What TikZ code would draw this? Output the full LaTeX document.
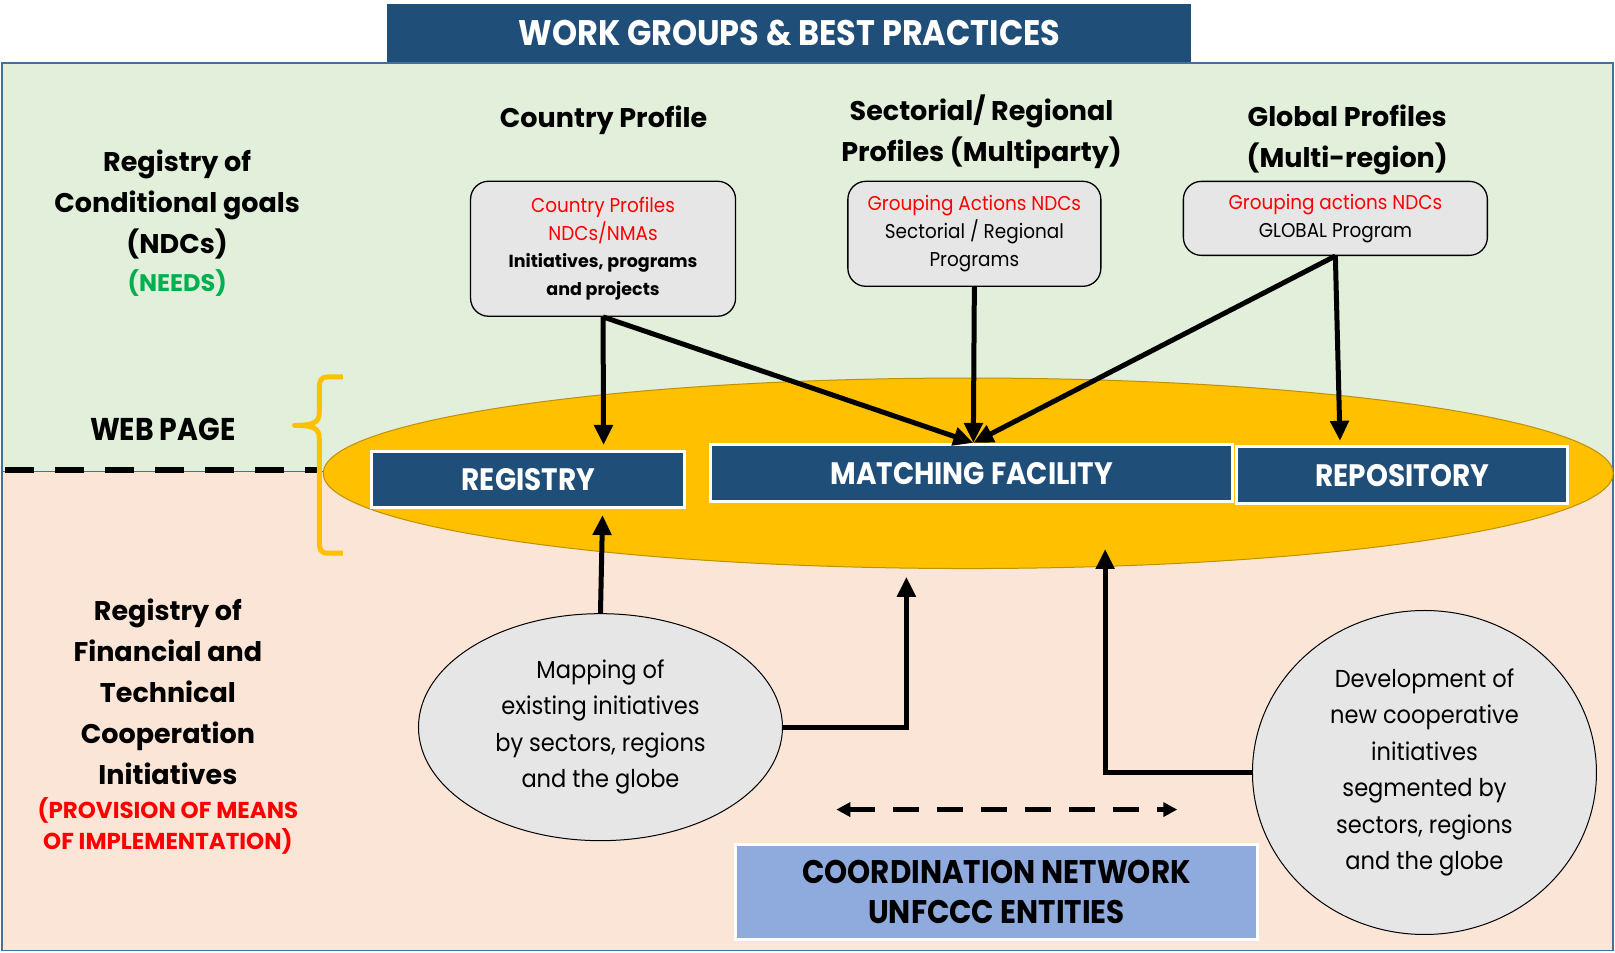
\documentclass[tikz,border=0pt]{standalone}
\usepackage{fontspec}
\setmainfont{Poppins}
\newfontfamily\cond{Poppins}[FakeStretch=0.9]
\newfontfamily\med{Poppins}
\newfontfamily\rg{Poppins}[FakeStretch=0.92]
\usetikzlibrary{arrows.meta,shapes.geometric}
\definecolor{dkblue}{HTML}{1F4E79}
\definecolor{bggreen}{HTML}{E2EFDA}
\definecolor{bgpink}{HTML}{FBE5D6}
\definecolor{frameblue}{HTML}{41719C}
\definecolor{orng}{HTML}{FFC000}
\definecolor{orngdk}{HTML}{BF9000}
\definecolor{boxgray}{HTML}{E7E6E6}
\definecolor{coordblue}{HTML}{8FAADC}
\definecolor{redtxt}{HTML}{FF0000}
\definecolor{greentxt}{HTML}{00B050}
\newcommand{\fsz}[2]{\fontsize{#1}{#2}\selectfont}
\begin{document}
\begin{tikzpicture}[x=1.03pt,y=-1.03pt,
  bluebox/.style={draw=white, line width=3pt, fill=dkblue, text=white, font=\cond\bfseries\fsz{31}{35}, inner sep=0, minimum height=56.7pt},
  graybox/.style={draw=black, line width=1.3pt, fill=boxgray, rounded corners=18pt, align=center, inner sep=0, font=\rg\fsz{20}{27.8}},
  grayell/.style={ellipse, draw=black, line width=1pt, fill=boxgray, align=center, inner sep=0, font=\rg\fsz{24.5}{36.5}},
  hdr/.style={align=center, font=\med\bfseries\fsz{27}{41}, inner sep=0},
  arr/.style={line width=5pt, -{Triangle[length=20pt,width=18pt]}},
  darr/.style={line width=5pt, dash pattern=on 26pt off 18pt, {Triangle[length=14pt,width=14pt]}-{Triangle[length=14pt,width=14pt]}}
]
\useasboundingbox (0,0) rectangle (1568,925);
% backgrounds
\fill[bggreen] (2,61) rectangle (1566,458);
\fill[bgpink] (2,458) rectangle (1566,923);
\draw[frameblue, line width=1pt] (2,458) -- (1566,458);
\draw[frameblue, line width=1.5pt] (2,61) rectangle (1566,923);
% title
\node[fill=dkblue, minimum width=804pt, minimum height=58pt, inner sep=0, text=white, font=\cond\bfseries\fsz{35.5}{40}] (title) at (766.5,32) {WORK GROUPS \& BEST PRACTICES};
% left labels
\node[hdr] (ndcs) at (172,199) {Registry of\\Conditional goals\\(NDCs)};
\node[hdr, text=greentxt, font=\med\bfseries\fsz{24}{28}] (needs) at (172,275) {(NEEDS)};
\node[hdr, font=\cond\bfseries\fsz{31.5}{36}] (webpage) at (158,417) {WEB PAGE};
\node[hdr] (fin) at (163,672) {Registry of\\Financial and\\Technical\\Cooperation\\Initiatives};
\node[hdr, text=redtxt, font=\med\bfseries\fsz{23}{31}] (prov) at (163,802) {(PROVISION OF MEANS\\OF IMPLEMENTATION)};
% dashed line and brace
\draw[line width=6pt, dash pattern=on 29pt off 21pt] (5,456) -- (310,456);
\coordinate (bracetop) at (333,366);
\coordinate (bracebot) at (333,537);
\coordinate (bracetip) at (286,413);
\draw[orng, line width=5pt, line join=round] (bracetop) -- (318,366) .. controls (311,366) and (310,370) .. (310,378) -- (310,400) .. controls (310,410) and (305,413) .. (bracetip) .. controls (305,413) and (310,416) .. (310,426) -- (310,525) .. controls (310,533) and (311,537) .. (318,537) -- (bracebot);
% big ellipse
\node[ellipse, fill=orng, draw=orngdk, line width=1pt, minimum width=1290pt, minimum height=190.5pt, inner sep=0] (web) at (940,459.5) {};
% headers
\node[hdr] (hcountry) at (586,117) {Country Profile};
\node[hdr] (hsector) at (953,128) {Sectorial/ Regional\\Profiles (Multiparty)};
\node[hdr] (hglobal) at (1308,136) {Global Profiles\\(Multi-region)};
% gray boxes
\node[graybox, minimum width=265pt, minimum height=135pt] (country) at (585.5,241.5) {{\color{redtxt}Country Profiles}\\{\color{redtxt}NDCs/NMAs}\\{\med\bfseries\fsz{17.5}{27.8}Initiatives, programs}\\{\med\bfseries\fsz{17.5}{27.8}and projects}};
\node[graybox, minimum width=253pt, minimum height=105pt] (sector) at (946,227) {{\color{redtxt}Grouping Actions NDCs}\\Sectorial / Regional\\Programs};
\node[graybox, minimum width=304pt, minimum height=74pt] (global) at (1296.5,212) {{\color{redtxt}Grouping actions NDCs}\\GLOBAL Program};
% blue boxes
\node[bluebox, minimum width=313pt] (registry) at (513,465.5) {REGISTRY};
\node[bluebox, minimum width=522pt] (matching) at (943.5,459.5) {MATCHING FACILITY};
\node[bluebox, minimum width=331pt] (repository) at (1361.5,461.5) {REPOSITORY};
% lower ellipses
\node[grayell, minimum width=364pt, minimum height=227pt] (mapping) at (583,706) {Mapping of\\existing initiatives\\by sectors, regions\\and the globe};
\node[grayell, minimum width=344pt, minimum height=324pt] (dev) at (1383,750) {Development of\\new cooperative\\initiatives\\segmented by\\sectors, regions\\and the globe};
% coordination
\node[fill=coordblue, draw=white, line width=3pt, minimum width=522pt, minimum height=95pt, inner sep=0, align=center, font=\cond\bfseries\fsz{32.7}{40.5}] (coord) at (967.5,866) {COORDINATION NETWORK\\UNFCCC ENTITIES};
% arrows
\coordinate (regtop) at (586,432);
\coordinate (mtop) at (945,430);
\coordinate (reptop) at (1301,428);
\coordinate (regbot) at (585,500);
\coordinate (mbot) at (880,560);
\coordinate (mbot2) at (1073,533);
\coordinate (dl) at (812,786);
\coordinate (dr) at (1143,786);
\draw[arr] (country.south) -- (regtop);
\draw[arr] (country.south) -- (mtop);
\draw[arr] (sector.south) -- (mtop);
\draw[arr] (global.south) -- (mtop);
\draw[arr] (global.south) -- (reptop);
\draw[arr] (mapping.north) -- (regbot);
\draw[arr] (mapping.east) -| (mbot);
\draw[arr] (dev.west) -| (mbot2);
\draw[darr] (dl) -- (dr);
\end{tikzpicture}
\end{document}
